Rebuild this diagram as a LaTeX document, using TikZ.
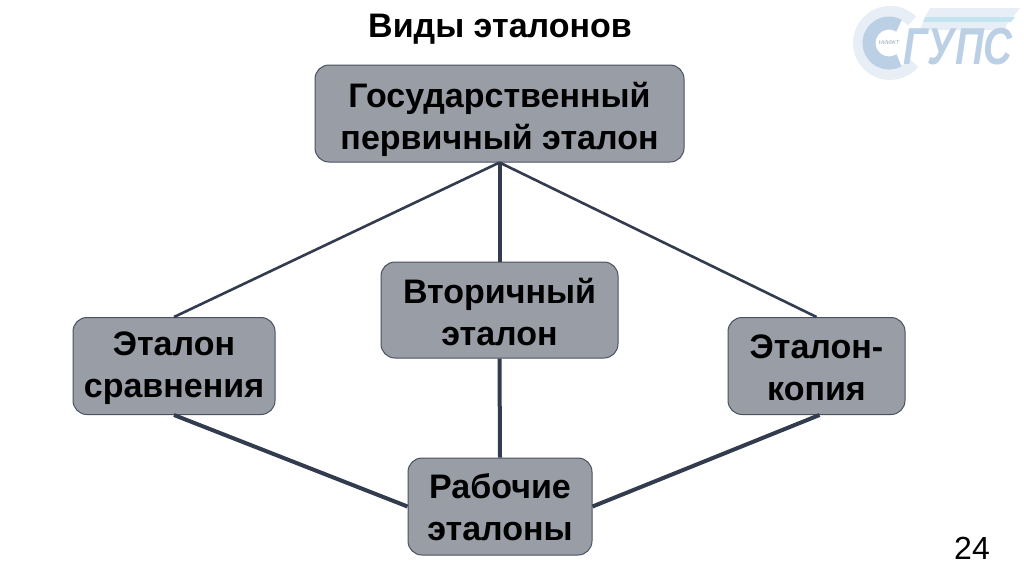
\documentclass[tikz,border=0pt]{standalone}
\usepackage{graphicx}
\usepackage{fontspec}
\setmainfont{Liberation Sans}
\definecolor{boxfill}{HTML}{989DA6}
\definecolor{boxline}{HTML}{4A5260}
\definecolor{conn}{HTML}{333C4E}
\definecolor{logoA}{HTML}{BCD0E5}
\definecolor{logoB}{HTML}{E8EEF5}
\definecolor{logoC}{HTML}{C4E5EF}
\newcommand{\boxlines}[3]{\raisebox{-#1pt}[\height][\depth]{\begin{tabular}{@{}c@{}}#2\\#3\end{tabular}}}
\tikzset{
  box/.style={draw=boxline,line width=1pt,fill=boxfill,rounded corners=14pt,inner sep=0pt,
    font=\fontsize{34}{42}\selectfont\bfseries,text=black},
  thin link/.style={draw=conn,line width=2.6pt},
  thick link/.style={draw=conn,line width=4pt}
}
\begin{document}
\begin{tikzpicture}[x=1pt,y=-1pt]
\useasboundingbox (0,0) rectangle (1024,574);
\fill[white] (0,0) rectangle (1024,574);
% logo
\draw[logoB,line width=12pt] (912,21) arc (-45:-320:31);
\draw[logoA,line width=13pt] (899,25.7) arc (-60:-300:20);
\fill[logoB] (930,8) -- (1020,8) -- (1013,17) -- (925,17) -- cycle;
\fill[logoC] (925,17) -- (1015,17) -- (1011,22) -- (923,22) -- cycle;
\fill[logoB] (923,22) -- (1008,22) -- (1004,30) -- (920,30) -- cycle;
\node[inner sep=0pt,text=logoA] (logotext) at (958,46.5) {\scalebox{1}[1.3]{\fontsize{40}{40}\selectfont\bfseries\itshape ГУПС}};
\node[inner sep=0pt,text=logoA!80!black] (logosmall) at (889,43) {\fontsize{5.5}{6}\selectfont\itshape НИИЖТ};
% title and page number
\node[inner sep=0pt,font=\fontsize{34}{36}\selectfont\bfseries] (title) at (500,29) {Виды эталонов};
\node[inner sep=0pt,font=\fontsize{32}{36}\selectfont] (page) at (972,548) {24};
% boxes
\node[box,minimum width=369pt,minimum height=97pt] (gos) at (499.5,113.5) {\boxlines{6.5}{Государственный}{первичный эталон}};
\node[box,minimum width=237pt,minimum height=96pt] (vtor) at (499.5,310) {\boxlines{6}{Вторичный}{эталон}};
\node[box,minimum width=202pt,minimum height=97pt] (srav) at (174,366) {\boxlines{2}{Эталон}{сравнения}};
\node[box,minimum width=177pt,minimum height=97pt] (kop) at (816.5,366) {\boxlines{5}{Эталон-}{копия}};
\node[box,minimum width=184pt,minimum height=97pt] (rab) at (500,506.5) {\boxlines{5}{Рабочие}{эталоны}};
% connectors
\draw[thin link] (gos.south) -- (srav.north);
\draw[thick link] (gos.south) -- (vtor.north);
\draw[thin link] (gos.south) -- (kop.north);
\draw[thick link] (vtor.south) -- (rab.north);
\draw[thick link] (srav.south) -- (rab.west);
\draw[thick link] ([xshift=3pt]kop.south) -- (rab.east);
\end{tikzpicture}
\end{document}
